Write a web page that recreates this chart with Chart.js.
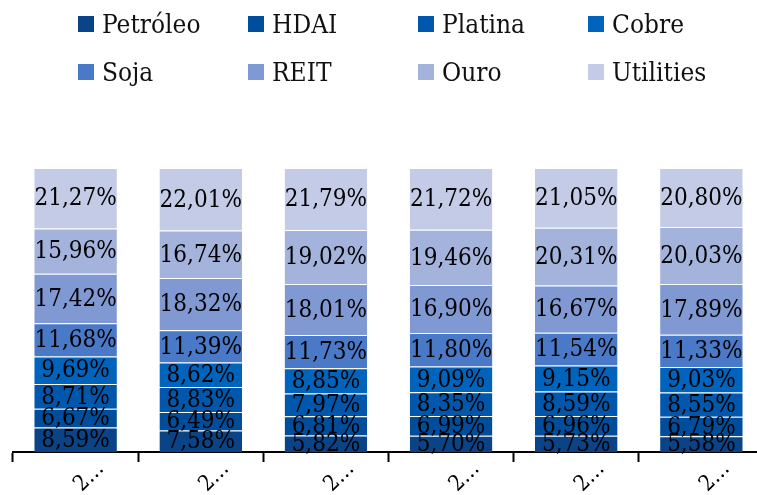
<!DOCTYPE html>
<html>
<head>
<meta charset="utf-8">
<script src="https://cdn.jsdelivr.net/npm/chart.js@4/dist/chart.umd.min.js"></script>
<style>
    html, body { margin: 0; padding: 0; background: #fff; overflow: hidden; }
    #wrap { position: relative; width: 764px; height: 495px; }
    #legend { position: absolute; left: 0; top: 0; width: 757px; height: 100px;
              font-family: 'DejaVu Serif Condensed', 'DejaVu Serif', serif; font-size: 26px; color: #111; }
    .item { position: absolute; display: flex; align-items: center; white-space: nowrap; }
    .box { width: 16px; height: 16px; margin-right: 8px; }
</style>
</head>
<body>
<div id="wrap">
    <canvas id="chart" width="764" height="495"></canvas>
    <div id="legend"></div>
</div>
<script>
// --- Dados ---
const categories = ['2…', '2…', '2…', '2…', '2…', '2…'];
const seriesNames = ['Petróleo', 'HDAI', 'Platina', 'Cobre', 'Soja', 'REIT', 'Ouro', 'Utilities'];
const petroleo  = [8.59, 7.58, 5.82, 5.70, 5.73, 5.58];
const hdai      = [6.67, 6.49, 6.81, 6.99, 6.96, 6.79];
const platina   = [8.71, 8.83, 7.97, 8.35, 8.59, 8.55];
const cobre     = [9.69, 8.62, 8.85, 9.09, 9.15, 9.03];
const soja      = [11.68, 11.39, 11.73, 11.80, 11.54, 11.33];
const reit      = [17.42, 18.32, 18.01, 16.90, 16.67, 17.89];
const ouro      = [15.96, 16.74, 19.02, 19.46, 20.31, 20.03];
const utilities = [21.27, 22.01, 21.79, 21.72, 21.05, 20.80];
const seriesColors = ['#0b4387', '#004d9b', '#0057ab', '#0063bc', '#4a79c7', '#8099d3', '#a4b3dc', '#c3cbe6'];

const seriesValues = [petroleo, hdai, platina, cobre, soja, reit, ouro, utilities];
const FONT = "'DejaVu Serif Condensed', 'DejaVu Serif', serif";

// --- Legenda em HTML (colunas alinhadas) ---
const legendEl = document.getElementById('legend');
seriesNames.forEach((name, i) => {
    const item = document.createElement('div');
    item.className = 'item';
    item.style.left = (78 + (i % 4) * 170) + 'px';
    item.style.top = (9 + Math.floor(i / 4) * 48) + 'px';
    item.innerHTML = `<span class="box" style="background:${seriesColors[i]}"></span><span>${name}</span>`;
    legendEl.appendChild(item);
});

// --- Plugin de rótulos dentro das barras ---
const barLabels = {
    id: 'barLabels',
    afterDatasetsDraw(chart) {
        const ctx = chart.ctx;
        ctx.save();
        ctx.font = `24px ${FONT}`;
        ctx.fillStyle = '#000';
        ctx.textAlign = 'center';
        ctx.textBaseline = 'middle';
        chart.data.datasets.forEach((ds, di) => {
            chart.getDatasetMeta(di).data.forEach((bar, i) => {
                const y = (bar.y + bar.base) / 2;
                const text = ds.data[i].toFixed(2).replace('.', ',') + '%';
                ctx.fillText(text, bar.x, y + 1);
            });
        });
        ctx.restore();
    }
};

new Chart(document.getElementById('chart'), {
    type: 'bar',
    data: {
        labels: categories,
        datasets: seriesNames.map((name, i) => ({
            label: name,
            data: seriesValues[i],
            backgroundColor: seriesColors[i],
            borderColor: 'rgba(255,255,255,0.15)',
            borderWidth: { top: 1 },
            borderSkipped: false,
            categoryPercentage: 0.66,
            barPercentage: 1
        }))
    },
    options: {
        responsive: false,
        animation: false,
        layout: { padding: { top: 168, left: 13, right: 0, bottom: 0 } },
        plugins: {
            legend: { display: false },
            tooltip: { enabled: false }
        },
        scales: {
            x: {
                stacked: true,
                grid: {
                    offset: true,
                    drawOnChartArea: false,
                    drawTicks: true,
                    tickLength: 10,
                    tickColor: '#000',
                    tickWidth: 2
                },
                border: { color: '#000', width: 2 },
                ticks: {
                    color: '#000',
                    font: { family: FONT, size: 22 },
                    minRotation: 45,
                    maxRotation: 45,
                    padding: -6,
                    labelOffset: 25
                },
                afterFit(scale) { scale.height = 43; }
            },
            y: {
                stacked: true,
                display: false,
                min: 0,
                max: 100
            }
        }
    },
    plugins: [barLabels]
});
</script>
</body>
</html>
